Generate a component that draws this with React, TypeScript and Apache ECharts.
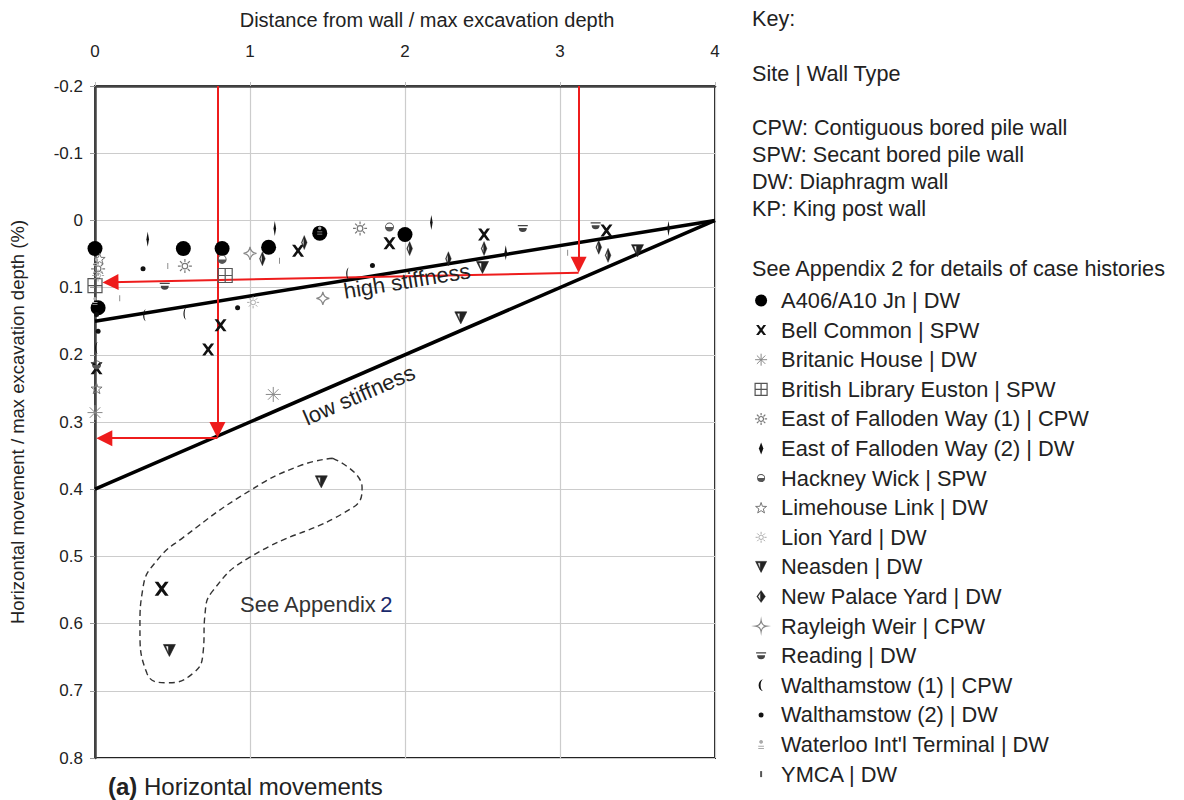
import React, { useEffect, useRef } from "react";
import * as echarts from "echarts";

const X_TICKS = [0, 1, 2, 3, 4];
const Y_MIN = -0.2;
const Y_MAX = 0.8;

const A406 = [[0.0, 0.042], [0.57, 0.042], [0.82, 0.042], [1.12, 0.04], [1.45, 0.019], [2.0, 0.021], [0.02, 0.13]];
const BELL = [[1.31, 0.045], [1.9, 0.034], [2.51, 0.021], [3.3, 0.015], [0.81, 0.156], [0.73, 0.192], [0.01, 0.22], [0.43, 0.548]];
const BRITANIC = [[1.15, 0.259], [0.0, 0.286]];
const LIBRARY = [[0.0, 0.097], [0.84, 0.082]];
const FALLODEN1 = [[0.58, 0.068], [1.71, 0.012], [0.02, 0.072]];
const FALLODEN2 = [[0.34, 0.028], [1.16, 0.012], [2.17, 0.003], [2.65, 0.048], [3.7, 0.012]];
const HACKNEY = [[0.82, 0.058], [0.01, 0.215], [1.9, 0.01]];
const LIMEHOUSE = [[0.03, 0.057], [0.01, 0.25]];
const LIONYARD = [[1.02, 0.122], [0.02, 0.082]];
const NEASDEN = [[2.5, 0.07], [2.36, 0.145], [3.5, 0.045], [1.46, 0.389], [0.48, 0.64]];
const NEWPALACE = [[1.08, 0.057], [1.35, 0.033], [2.03, 0.042], [2.51, 0.042], [3.25, 0.04], [3.31, 0.052], [2.28, 0.057]];
const RAYLEIGH = [[1.47, 0.116], [1.0, 0.049]];
const READING = [[0.45, 0.098], [2.76, 0.012], [3.23, 0.008]];
const WALTH1 = [[0.32, 0.141], [0.58, 0.139], [1.63, 0.079], [0.01, 0.19]];
const WALTH2 = [[0.92, 0.13], [1.79, 0.067], [0.02, 0.165], [0.31, 0.072], [0.01, 0.14]];
const WATERLOO = [[0.01, 0.062], [0.0, 0.12], [1.45, 0.015]];
const YMCA = [[0.16, 0.116], [0.47, 0.068], [1.19, 0.06], [3.05, 0.048]];

const HIGH_STIFFNESS = [[0, 0.15], [4, 0]];
const LOW_STIFFNESS = [[0, 0.4], [4, 0]];

const ARROW_V1 = [[0.79, -0.2], [0.79, 0.312]];
const ARROW_H1 = [[0.79, 0.324], [0.06, 0.324]];
const ARROW_V2 = [[3.12, -0.2], [3.12, 0.066]];
const ARROW_H2 = [[3.12, 0.078], [0.1, 0.092]];

const OUTLIER_OUTLINE = [
  [1.535, 0.354], [1.723, 0.397], [1.665, 0.427], [1.0, 0.501], [0.761, 0.551], [0.71, 0.585],
  [0.697, 0.644], [0.632, 0.674], [0.465, 0.688], [0.335, 0.674], [0.29, 0.606], [0.31, 0.546],
  [0.4, 0.506], [0.568, 0.472], [1.0, 0.402], [1.323, 0.365], [1.535, 0.354],
];

const FONT = "'Liberation Sans', Arial, sans-serif";

const P = {
  circle: "M0,5 A5,5 0 1,1 10,5 A5,5 0 1,1 0,5 Z",
  cross: "M0,0 L2.6,0 L5,3.2 L7.4,0 L10,0 L6.4,5 L10,10 L7.4,10 L5,6.8 L2.6,10 L0,10 L3.6,5 Z",
  asterisk: "M5,0 L5,10 M0,5 L10,5 M1.5,1.5 L8.5,8.5 M8.5,1.5 L1.5,8.5",
  boxCross: "M0,0 L10,0 L10,10 L0,10 Z M5,0 L5,10 M0,5 L10,5",
  sun: "M3,5 A2,2 0 1,1 7,5 A2,2 0 1,1 3,5 Z M5,0 L5,2 M5,8 L5,10 M0,5 L2,5 M8,5 L10,5 M1.5,1.5 L3,3 M7,7 L8.5,8.5 M8.5,1.5 L7,3 M3,7 L1.5,8.5",
  narrowDiamond: "M5,0 L8,8 L5,16 L2,8 Z",
  hackney: "M0,5 L10,5 A5,5 0 0,1 0,5 Z M0,5 A5,5 0 0,1 10,5 L9,5 A4,4 0 0,0 1,5 Z",
  star: "M5,0 L6.2,3.5 L10,3.6 L7,5.9 L8.1,9.5 L5,7.4 L1.9,9.5 L3,5.9 L0,3.6 L3.8,3.5 Z",
  neasden: "M0,0 L10,0 L5,10 Z M1.8,1.2 L4.2,7.5 L4.2,1.2 Z",
  halfDiamond: "M5,0 L10,7 L5,14 L0,7 Z M4.2,2.5 L1.3,7 L4.2,11.5 Z",
  fourStar: "M5,0 Q5.6,4.4 10,5 Q5.6,5.6 5,10 Q4.4,5.6 0,5 Q4.4,4.4 5,0 Z",
  reading: "M0,2 L10,2 L10,3.2 L0,3.2 Z M1,5 L9,5 A4,4 0 0,1 1,5 Z",
  crescent: "M6,0 A5,6 0 0,0 6,12 A3,6 0 0,1 6,0 Z",
  waterloo: "M5,0 A2,2 0 1,1 4.99,0 Z M2,6 L8,6 L8,7 L2,7 Z M2,8.5 L8,8.5 L8,9.5 L2,9.5 Z",
  ymca: "M0,0 L2,0 L2,6 L0,6 Z",
};

const ICON_BOX = 13;

function legendIcon(body: string, b: number[], px: number) {
  const dim = Math.max(b[2] - b[0], b[3] - b[1]);
  const h = (dim * ICON_BOX) / px / 2;
  const cx = (b[0] + b[2]) / 2;
  const cy = (b[1] + b[3]) / 2;
  return `path://${body} M${cx - h},${cy - h} M${cx + h},${cy + h}`;
}

const SITES = [
  { name: "A406/A10 Jn | DW", data: A406, path: P.circle, box: [0, 0, 10, 10], lpx: 12, size: 15, color: "#000", border: "#000", bw: 0 },
  { name: "Bell Common | SPW", data: BELL, path: P.cross, box: [0, 0, 10, 10], lpx: 10, size: 12, color: "#111", border: "#111", bw: 0 },
  { name: "Britanic House | DW", data: BRITANIC, path: P.asterisk, box: [0, 0, 10, 10], lpx: 12, size: 15, color: "rgba(0,0,0,0)", border: "#888", bw: 1 },
  { name: "British Library Euston | SPW", data: LIBRARY, path: P.boxCross, box: [0, 0, 10, 10], lpx: 12, size: 14, color: "rgba(0,0,0,0)", border: "#555", bw: 1.2 },
  { name: "East of Falloden Way (1) | CPW", data: FALLODEN1, path: P.sun, box: [0, 0, 10, 10], lpx: 12, size: 14, color: "rgba(0,0,0,0)", border: "#777", bw: 1.2 },
  { name: "East of Falloden Way (2) | DW", data: FALLODEN2, path: P.narrowDiamond, box: [2, 0, 8, 16], lpx: 12, size: [7, 15], color: "#111", border: "#111", bw: 0 },
  { name: "Hackney Wick | SPW", data: HACKNEY, path: P.hackney, box: [0, 0, 10, 10], lpx: 8, size: 9, color: "#555", border: "#555", bw: 0 },
  { name: "Limehouse Link | DW", data: LIMEHOUSE, path: P.star, box: [0, 0, 10, 9.5], lpx: 11, size: 11, color: "rgba(0,0,0,0)", border: "#777", bw: 1 },
  { name: "Lion Yard | DW", data: LIONYARD, path: P.sun, box: [0, 0, 10, 10], lpx: 11, size: 12, color: "rgba(0,0,0,0)", border: "#aaa", bw: 1 },
  { name: "Neasden | DW", data: NEASDEN, path: P.neasden, box: [0, 0, 10, 10], lpx: 11, size: 12, color: "#222", border: "#222", bw: 0.6 },
  { name: "New Palace Yard | DW", data: NEWPALACE, path: P.halfDiamond, box: [0, 0, 10, 14], lpx: 12, size: [8, 14], color: "#222", border: "#222", bw: 0.4 },
  { name: "Rayleigh Weir | CPW", data: RAYLEIGH, path: P.fourStar, box: [0, 0, 10, 10], lpx: 11, size: 13, color: "rgba(255,255,255,0)", border: "#888", bw: 1.2 },
  { name: "Reading | DW", data: READING, path: P.reading, box: [0, 2, 10, 9], lpx: 10, size: 10, color: "#444", border: "#444", bw: 0 },
  { name: "Walthamstow (1) | CPW", data: WALTH1, path: P.crescent, box: [1, 0, 6, 12], lpx: 12, size: [7, 12], color: "#111", border: "#111", bw: 0 },
  { name: "Walthamstow (2) | DW", data: WALTH2, path: P.circle, box: [0, 0, 10, 10], lpx: 5, size: 5, color: "#111", border: "#111", bw: 0 },
  { name: "Waterloo Int'l Terminal | DW", data: WATERLOO, path: P.waterloo, box: [2, 0, 8, 9.5], lpx: 9, size: 8, color: "#aaa", border: "#aaa", bw: 0 },
  { name: "YMCA | DW", data: YMCA, path: P.ymca, box: [0, 0, 2, 6], lpx: 6, size: [2, 6], color: "#555", border: "#555", bw: 0 },
];

function arrowPair(seg: number[][]) {
  return [
    { coord: seg[0], symbol: "none" },
    { coord: seg[1], symbol: "triangle" },
  ];
}

export default function App() {
  const ref = useRef<HTMLDivElement>(null);

  useEffect(() => {
    if (!ref.current) return;
    const chart = echarts.init(ref.current, null, { renderer: "svg" });

    const siteSeries = SITES.map((s) => ({
      type: "scatter",
      name: s.name,
      data: s.data,
      symbol: "path://" + s.path,
      symbolSize: s.name.startsWith("Bell")
        ? (v: number[]) => (v[1] > 0.5 ? 14 : 12)
        : s.size,
      symbolKeepAspect: true,
      itemStyle: { color: s.color, borderColor: s.border, borderWidth: s.bw, opacity: 1 },
      z: 5,
    }));

    const option: any = {
      animation: false,
      textStyle: { fontFamily: FONT },
      grid: {
        left: 95,
        right: 1184 - 715,
        top: 86,
        bottom: 800 - 758,
        show: true,
        borderColor: "#222",
        borderWidth: 2,
        backgroundColor: "#fff",
      },
      xAxis: {
        type: "value",
        position: "top",
        min: X_TICKS[0],
        max: X_TICKS[X_TICKS.length - 1],
        interval: 1,
        name: "Distance from wall / max excavation depth",
        nameLocation: "middle",
        nameGap: 56,
        nameTextStyle: { fontSize: 20, color: "#222", fontFamily: FONT, padding: [0, 0, 0, 44] },
        axisLine: { show: true, onZero: false, lineStyle: { color: "#444", width: 2.5 } },
        axisTick: { show: true, length: 4, lineStyle: { color: "#bbb" } },
        axisLabel: { fontSize: 17, color: "#222", margin: 26, fontFamily: FONT },
        splitLine: { show: true, lineStyle: { color: "#ccc", width: 1.2 } },
      },
      yAxis: {
        type: "value",
        inverse: true,
        min: Y_MIN,
        max: Y_MAX,
        interval: 0.1,
        name: "Horizontal movement / max excavation depth (%)",
        nameLocation: "middle",
        nameGap: 68,
        nameTextStyle: { fontSize: 18.5, color: "#222", fontFamily: FONT },
        axisLine: { show: true, onZero: false, lineStyle: { color: "#444", width: 2.5 } },
        axisTick: { show: true, length: 5, lineStyle: { color: "#999" } },
        axisLabel: {
          fontSize: 17,
          color: "#222",
          margin: 12,
          fontFamily: FONT,
          formatter: (v: number) => String(Math.round(v * 10) / 10),
        },
        splitLine: { show: true, lineStyle: { color: "#ccc", width: 1.2 } },
      },
      legend: {
        orient: "vertical",
        left: 754,
        top: 289.5,
        padding: 0,
        itemGap: 7.6,
        itemWidth: 30,
        itemHeight: ICON_BOX,
        symbolKeepAspect: true,
        selectedMode: false,
        textStyle: { fontSize: 21.8, lineHeight: 21, color: "#222", fontFamily: FONT },
        data: SITES.map((s) => ({
          name: s.name,
          icon: legendIcon(s.path, s.box, s.lpx),
          itemStyle: { color: s.color, borderColor: s.border, borderWidth: s.bw },
        })),
      },
      series: [
        {
          type: "line",
          name: "high stiffness",
          data: HIGH_STIFFNESS,
          symbol: "none",
          lineStyle: { color: "#000", width: 3.5 },
          z: 3,
          silent: true,
          markLine: {
            silent: true,
            symbolSize: 16,
            label: { show: false },
            lineStyle: { color: "#ee1c1c", width: 2, type: "solid" },
            data: [arrowPair(ARROW_V1), arrowPair(ARROW_H1), arrowPair(ARROW_V2), arrowPair(ARROW_H2)],
          },
        },
        {
          type: "line",
          name: "low stiffness",
          data: LOW_STIFFNESS,
          symbol: "none",
          lineStyle: { color: "#000", width: 3.5 },
          z: 3,
          silent: true,
        },
        {
          type: "line",
          name: "outliers",
          data: OUTLIER_OUTLINE,
          symbol: "none",
          smooth: 0.5,
          lineStyle: { color: "#333", width: 1.4, type: [6, 4] },
          z: 2,
          silent: true,
        },
        ...siteSeries,
      ],
      graphic: [
        {
          type: "text",
          x: 752,
          y: 18,
          style: { text: "Key:", font: `21.6px ${FONT}`, fill: "#222", verticalAlign: "middle" },
        },
        {
          type: "text",
          x: 752,
          y: 73,
          style: { text: "Site | Wall Type", font: `21.6px ${FONT}`, fill: "#222", verticalAlign: "middle" },
        },
        {
          type: "text",
          x: 752,
          y: 168,
          style: {
            text: "CPW: Contiguous bored pile wall\nSPW: Secant bored pile wall\nDW: Diaphragm wall\nKP: King post wall",
            font: `21.6px ${FONT}`,
            lineHeight: 27.3,
            fill: "#222",
            verticalAlign: "middle",
          },
        },
        {
          type: "text",
          x: 752,
          y: 268,
          style: {
            text: "See Appendix 2 for details of case histories",
            font: `21.6px ${FONT}`,
            fill: "#222",
            verticalAlign: "middle",
          },
        },
        {
          type: "text",
          x: 407,
          y: 281,
          rotation: (9.3 * Math.PI) / 180,
          style: {
            text: "high stiffness",
            font: `22px ${FONT}`,
            fill: "#222",
            align: "center",
            verticalAlign: "middle",
          },
          z: 10,
        },
        {
          type: "text",
          x: 359,
          y: 395,
          rotation: (23.5 * Math.PI) / 180,
          style: {
            text: "low stiffness",
            font: `22px ${FONT}`,
            fill: "#222",
            align: "center",
            verticalAlign: "middle",
          },
          z: 10,
        },
        {
          type: "text",
          x: 240,
          y: 604,
          style: {
            text: "{a|See Appendix} {b|2}",
            verticalAlign: "middle",
            rich: {
              a: { font: `22px ${FONT}`, fill: "#333" },
              b: { font: `22px ${FONT}`, fill: "#1a2a6c" },
            },
          },
          z: 10,
        },
        {
          type: "text",
          x: 108,
          y: 786,
          style: {
            text: "{a|(a)}  {b|Horizontal movements}",
            verticalAlign: "middle",
            rich: {
              a: { font: `bold 24px ${FONT}`, fill: "#222", lineHeight: 24 },
              b: { font: `24px ${FONT}`, fill: "#222", lineHeight: 24 },
            },
          },
        },
      ],
    };

    chart.setOption(option);
    return () => chart.dispose();
  }, []);

  return (
    <div
      ref={ref}
      style={{ position: "fixed", left: 0, top: 0, width: 1184, height: 800, background: "#fff" }}
    />
  );
}
